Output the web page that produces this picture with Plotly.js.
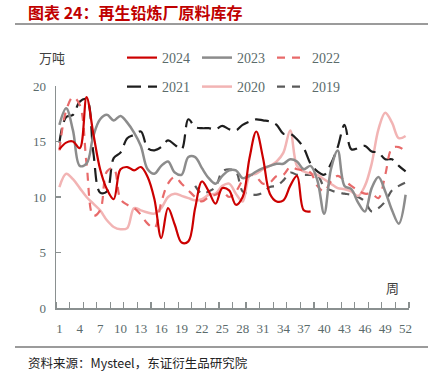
<!DOCTYPE html>
<html>
<head>
<meta charset="utf-8">
<script src="https://cdn.plot.ly/plotly-3.0.1.min.js"></script>
<style>
html,body{margin:0;padding:0;background:#fff;}
#chart{width:439px;height:378px;}
</style>
</head>
<body>
<div id="chart"></div>
<script>
const weeks = [1,2,3,4,5,6,7,8,9,10,11,12,13,14,15,16,17,18,19,20,21,22,23,24,25,26,27,28,29,30,31,32,33,34,35,36,37,38,39,40,41,42,43,44,45,46,47,48,49,50,51,52];
const tickWeeks = [1,4,7,10,13,16,19,22,25,28,31,34,37,40,43,46,49,52];

const y2024 = [14.3,14.9,15.0,14.4,19.0,15.7,12.5,10.7,9.8,12.5,12.7,12.4,12.7,11.8,9.8,6.3,9.0,7.5,5.9,6.0,9.0,11.4,10.5,9.4,10.8,10.6,9.3,10.0,13.5,15.9,13.5,10.3,9.6,9.7,11.0,11.9,8.8,8.7];
const y2023 = [16.5,18.0,16.0,12.8,13.0,15.5,17.0,17.4,16.9,17.3,16.7,15.8,14.6,12.5,12.1,12.8,13.2,12.2,12.0,13.6,13.6,12.6,11.7,11.2,11.9,12.4,12.4,11.7,11.9,12.3,12.6,12.8,13.0,13.0,13.4,13.2,12.5,12.8,11.5,8.5,12.5,14.2,11.0,10.7,9.5,8.7,10.8,11.8,10.5,8.8,7.6,10.2];
const y2022 = [14.2,17.8,19.0,18.3,13.0,8.3,8.8,12.3,12.6,9.8,9.3,9.0,8.4,7.6,7.2,9.5,11.2,11.8,11.2,10.6,10.0,9.6,10.0,10.2,10.5,10.0,10.5,11.5,12.0,11.8,11.2,11.3,11.9,12.0,12.7,12.5,12.4,12.2,11.0,10.5,11.4,11.9,11.5,11.0,10.6,10.3,10.3,9.9,12.0,14.4,14.5,14.1];
const y2021 = [14.9,17.2,17.4,18.6,18.8,14.0,10.4,10.5,13.5,14.0,15.3,15.6,15.9,14.4,14.2,14.5,15.1,14.7,14.3,17.0,16.3,16.2,16.2,16.1,16.4,16.1,16.0,16.5,16.8,17.0,16.9,16.8,16.5,15.7,15.7,15.2,14.4,13.0,12.3,12.0,13.0,14.5,16.5,14.3,14.4,14.6,14.1,14.0,13.4,13.4,12.8,12.3];
const y2020 = [10.9,12.1,11.6,10.8,10.0,9.4,8.8,7.9,7.3,7.1,7.2,9.0,8.8,8.6,8.5,9.0,10.0,10.3,10.1,9.9,9.7,9.8,10.2,10.3,11.0,11.2,10.3,9.6,11.9,12.1,12.5,12.8,13.2,14.0,16.0,12.8,12.3,12.1,12.0,11.6,11.2,10.8,10.7,10.5,10.1,11.0,13.0,16.1,17.6,16.7,15.3,15.5];
const weeks2019 = [21,22,23,24,25,26,27,28,29,30,31,32,33,34,35,36,37,38,39,40,41,42,43,44,45,46,47,48,49,50,51,52];
const y2019 = [11.0,10.3,10.5,10.9,12.3,12.5,12.3,10.5,10.3,10.2,10.4,10.9,11.0,11.5,12.2,12.0,12.0,12.0,12.0,10.9,10.6,10.4,10.3,10.2,10.0,9.6,8.7,9.0,9.6,10.6,11.0,11.3];

const serif = '"Liberation Serif", "Times New Roman", serif';
const txtColor = '#5b6b6b';

function tr(name, x, y, color, width, dash, legend, rank) {
  return {
    type: 'scatter', mode: 'lines', name: name, x: x, y: y,
    line: {color: color, width: width, dash: dash, shape: 'spline', smoothing: 1},
    legend: legend, legendrank: rank, hoverinfo: 'skip'
  };
}

const data = [
  tr('2019', weeks2019, y2019, '#5a5a5a', 2.2, '8px,7px', 'legend2', 3),
  tr('2020', weeks, y2020, '#f2b4b4', 2.5, 'solid', 'legend2', 2),
  tr('2021', weeks, y2021, '#1e1e1e', 2.2, '14px,7px', 'legend2', 1),
  tr('2022', weeks, y2022, '#e86a6a', 2.2, '8px,7px', 'legend', 3),
  tr('2023', weeks, y2023, '#8c8c8c', 2.5, 'solid', 'legend', 2),
  tr('2024', weeks.slice(0, y2024.length), y2024, '#cc0000', 2.2, 'solid', 'legend', 1)
];

const minorTicks = [];
for (let v = 0.5; v <= 52.5; v += 2) minorTicks.push(v);

const legendCommon = {
  orientation: 'h', xref: 'container', yref: 'container',
  xanchor: 'left', yanchor: 'middle',
  entrywidth: 30, entrywidthmode: 'pixels',
  bgcolor: 'rgba(0,0,0,0)', borderwidth: 0,
  font: {family: serif, size: 14, color: txtColor},
  itemwidth: 30, tracegroupgap: 0
};

const layout = {
  width: 439, height: 378,
  margin: {l: 56, r: 30, t: 86, b: 70, pad: 0, autoexpand: false},
  paper_bgcolor: '#ffffff', plot_bgcolor: '#ffffff',
  showlegend: true,
  legend: Object.assign({}, legendCommon, {x: 122/439, y: 1 - 58/378}),
  legend2: Object.assign({}, legendCommon, {x: 122/439, y: 1 - 87/378}),
  xaxis: {
    type: 'linear', range: [0.5, 52.5],
    tickmode: 'array', tickvals: tickWeeks, ticktext: tickWeeks.map(String),
    ticks: '', showgrid: false, zeroline: false,
    showline: true, linecolor: '#8a9090', linewidth: 1.5,
    tickfont: {family: serif, size: 13, color: txtColor},
    ticklabelstandoff: 8,
    minor: {tickmode: 'array', tickvals: minorTicks, ticks: 'inside', ticklen: 6, tickwidth: 1.2, tickcolor: '#8a9090', showgrid: false}
  },
  yaxis: {
    range: [0, 20], tickmode: 'linear', tick0: 0, dtick: 5,
    ticks: 'inside', ticklen: 5, tickwidth: 1.2, tickcolor: '#8a9090',
    showgrid: false, zeroline: false,
    showline: true, linecolor: '#8a9090', linewidth: 1.5,
    tickfont: {family: serif, size: 13, color: txtColor},
    ticklabelstandoff: 6
  },
  shapes: [
    {type: 'line', xref: 'paper', yref: 'paper', x0: (15-56)/353, x1: (428-56)/353, y0: (308-24)/222, y1: (308-24)/222, line: {color: '#7a7a7a', width: 1.5}},
    {type: 'line', xref: 'paper', yref: 'paper', x0: (15-56)/353, x1: (428-56)/353, y0: -(347-308)/222, y1: -(347-308)/222, line: {color: '#7a7a7a', width: 1.5}}
  ],
  annotations: [
    {xref: 'paper', yref: 'paper', x: (26-56)/353, y: (308-12)/222, xanchor: 'left', yanchor: 'middle', showarrow: false,
     text: '<b>图表 24：再生铅炼厂原料库存</b>', font: {family: '"Noto Sans CJK SC", sans-serif', size: 16, color: '#c00000'}},
    {xref: 'paper', yref: 'paper', x: (52-56)/353, y: (308-58)/222, xanchor: 'center', yanchor: 'middle', showarrow: false,
     text: '万吨', font: {family: '"Noto Sans CJK SC", sans-serif', size: 13, color: '#404040'}},
    {xref: 'paper', yref: 'paper', x: (392-56)/353, y: (308-287)/222, xanchor: 'center', yanchor: 'middle', showarrow: false,
     text: '周', font: {family: '"Noto Sans CJK SC", sans-serif', size: 13, color: '#404040'}},
    {xref: 'paper', yref: 'paper', x: (26-56)/353, y: -(362-308)/222, xanchor: 'left', yanchor: 'middle', showarrow: false,
     text: '资料来源：Mysteel，东证衍生品研究院', font: {family: '"Noto Sans CJK SC", sans-serif', size: 12.5, color: '#222222'}}
  ]
};

Plotly.newPlot('chart', data, layout, {staticPlot: true, displayModeBar: false});
</script>
</body>
</html>
